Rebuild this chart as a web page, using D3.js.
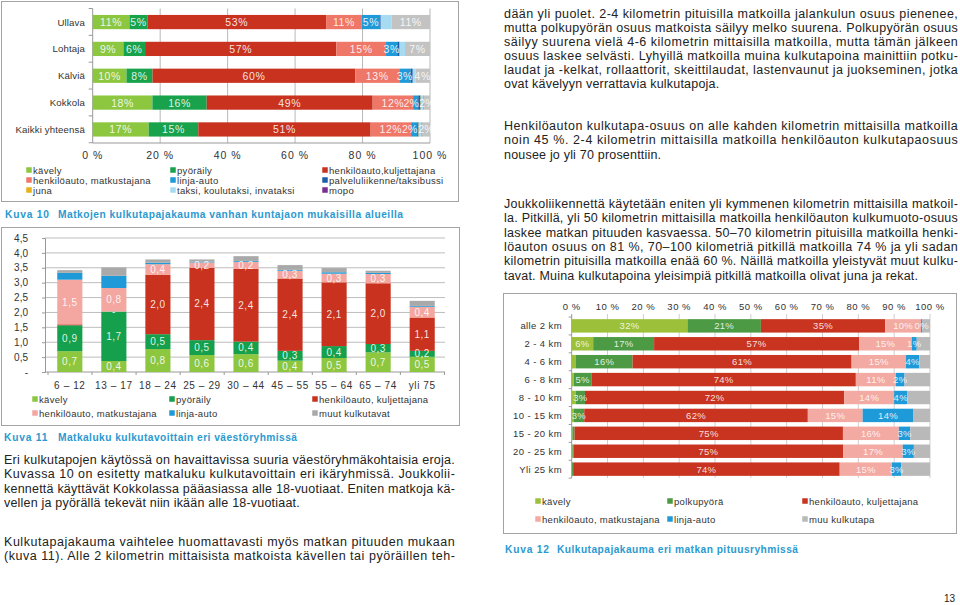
<!DOCTYPE html>
<html>
<head>
<meta charset="utf-8">
<script src="https://cdn.jsdelivr.net/npm/d3@7"></script>
<style>
  body { margin: 0; background: #fff; }
  #page { position: relative; width: 960px; height: 605px; overflow: hidden; }
</style>
</head>
<body>
<div id="page"></div>
<script>
// Kuva 10 data: share of trips by mode, per area (%)
const areas = ["Ullava", "Lohtaja", "Kälviä", "Kokkola", "Kaikki yhteensä"];
const modes10 = ["kävely", "pyöräily", "henkilöauto,kuljettajana", "henkilöauto, matkustajana",
  "linja-auto", "palveluliikenne/taksibussi", "juna", "taksi, koulutaksi, invataksi", "mopo", "muu"];
const ullava   = [10.9, 5.3, 53.0, 10.6, 5.4, 0.2, 0.0, 3.2, 0.0, 11.4];
const lohtaja  = [9.1, 6.4, 56.6, 14.7, 3.3, 0.7, 0.0, 1.6, 0.0, 7.4];
const kalvia   = [10.0, 7.7, 60.0, 13.0, 3.3, 0.7, 0.0, 0.8, 0.0, 4.3];
const kokkola  = [17.7, 16.1, 49.2, 12.0, 1.5, 0.7, 0.1, 0.8, 0.1, 1.8];
const kaikki   = [16.6, 14.7, 51.1, 12.0, 1.8, 0.4, 0.1, 0.8, 0.1, 2.4];
const rows10 = [ullava, lohtaja, kalvia, kokkola, kaikki];
const ticks10 = [0, 20, 40, 60, 80, 100];

// Kuva 11 data: trips per person per day by mode, per age group
const ages = ["6 – 12", "13 – 17", "18 – 24", "25 – 29", "30 – 44", "45 – 55", "55 – 64", "65 – 74", "yli 75"];
const modes11 = ["kävely", "pyöräily", "henkilöauto, kuljettajana", "henkilöauto, matkustajana", "linja-auto", "muut kulkutavat"];
const walk11  = [0.70, 0.37, 0.77, 0.57, 0.60, 0.38, 0.47, 0.66, 0.51];
const bike11  = [0.87, 1.66, 0.50, 0.50, 0.42, 0.33, 0.40, 0.28, 0.20];
const drive11 = [0.03, 0.00, 1.99, 2.43, 2.44, 2.43, 2.14, 2.04, 1.12];
const pass11  = [1.50, 0.79, 0.36, 0.18, 0.24, 0.26, 0.29, 0.31, 0.36];
const bus11   = [0.23, 0.41, 0.05, 0.03, 0.03, 0.03, 0.05, 0.04, 0.03];
const other11 = [0.09, 0.28, 0.11, 0.07, 0.16, 0.16, 0.14, 0.07, 0.17];
const yTicks11 = [0, 0.5, 1, 1.5, 2, 2.5, 3, 3.5, 4, 4.5];

// Kuva 12 data: share of trips by mode, per trip length (%)
const dists = ["alle 2 km", "2 - 4 km", "4 - 6 km", "6 - 8 km", "8 - 10 km", "10 - 15 km", "15 - 20 km", "20 - 25 km", "Yli 25 km"];
const modes12 = ["kävely", "polkupyörä", "henkilöauto, kuljettajana", "henkilöauto, matkustajana", "linja-auto", "muu kulkutapa"];
const walk12  = [32.3, 6.0, 1.2, 0.6, 1.1, 0.5, 0.2, 0.2, 0.1];
const bike12  = [20.5, 17.0, 15.8, 4.9, 2.6, 3.0, 0.6, 0.3, 0.3];
const drive12 = [34.7, 57.2, 61.2, 73.8, 72.3, 62.4, 74.9, 75.3, 74.4];
const pass12  = [10.0, 14.7, 15.2, 11.2, 13.9, 15.3, 15.6, 16.6, 14.6];
const bus12   = [0.4, 1.4, 3.7, 2.4, 3.7, 14.2, 3.2, 3.1, 2.6];
const other12 = [2.1, 3.7, 3.0, 7.1, 6.3, 4.6, 5.5, 4.5, 8.0];
const ticks12 = [0, 10, 20, 30, 40, 50, 60, 70, 80, 90, 100];

const colors10 = ["#8dc63f", "#18a24b", "#c8321e", "#ef7767", "#1f9ad8", "#1d5ea8", "#e8b117", "#a6dbf2", "#7a2f8f", "#c3c3c3"];
const colors11 = ["#8dc63f", "#14a04c", "#c8321e", "#f4a7a0", "#1f9ad8", "#a9a9a9"];
const colors12 = ["#9cc03a", "#4c9a43", "#c8341f", "#f3aaa2", "#1f9ad8", "#b9b9b9"];

const FONT = "'Liberation Sans', Arial, Helvetica, sans-serif";
const svg = d3.select("#page").append("svg")
  .attr("width", 960).attr("height", 605)
  .style("font-family", FONT);

function frame(x0, y0, x1, y1) {
  svg.append("rect")
    .attr("x", x0 + 0.5).attr("y", y0 + 0.5)
    .attr("width", x1 - x0).attr("height", y1 - y0)
    .attr("fill", "none").attr("stroke", "#a3a3a3");
}
frame(1, 1, 458, 201);
frame(1, 227, 459, 425);
frame(503, 293, 956, 533);

function legend(g, items, colors, cols, rowsY) {
  items.forEach((name, i) => {
    const cx = cols[i % cols.length], cy = rowsY[Math.floor(i / cols.length)];
    g.append("rect").attr("x", cx).attr("y", cy - 3).attr("width", 6).attr("height", 6)
      .attr("fill", colors[i]).attr("stroke", "#fff").attr("stroke-width", 0.5);
    g.append("text").attr("x", cx + 7).attr("y", cy + 3.5)
      .attr("font-size", 9.5).attr("letter-spacing", 0.3).attr("fill", "#333").text(name);
  });
}

// ---------- Kuva 10 ----------
{
  const g = svg.append("g");
  const x = d3.scaleLinear().domain([0, 1]).range([92.7, 430]);
  const y = d3.scaleBand().domain(areas).range([8.5, 143]).paddingInner(0.47).paddingOuter(0.24);
  const table = areas.map((a, i) => {
    const o = { name: a };
    modes10.forEach((m, j) => o[m] = rows10[i][j]);
    return o;
  });
  const stacked = d3.stack().keys(modes10).offset(d3.stackOffsetExpand)(table);

  g.selectAll("line.grid").data(ticks10).join("line").attr("class", "grid")
    .attr("x1", d => x(d / 100)).attr("x2", d => x(d / 100))
    .attr("y1", 8.5).attr("y2", 143)
    .attr("stroke", d => d === 0 ? "#999" : "#b8b8b8");

  // left axis ticks between rows
  const step = y.step();
  g.selectAll("line.ytick").data(d3.range(areas.length + 1)).join("line").attr("class", "ytick")
    .attr("x1", x(0) - 4).attr("x2", x(0))
    .attr("y1", i => 8.5 + i * step).attr("y2", i => 8.5 + i * step)
    .attr("stroke", "#999");
  g.append("line").attr("x1", x(0)).attr("x2", x(1)).attr("y1", 143).attr("y2", 143).attr("stroke", "#999");

  g.selectAll("g.layer").data(stacked).join("g").attr("class", "layer")
    .attr("fill", (d, i) => colors10[i])
    .selectAll("rect").data(d => d).join("rect")
    .attr("x", d => x(d[0])).attr("width", d => Math.max(0, x(d[1]) - x(d[0])))
    .attr("y", d => y(d.data.name)).attr("height", y.bandwidth());

  svg.append("clipPath").attr("id", "clip10").append("rect")
    .attr("x", x(0)).attr("y", 0).attr("width", x(1) - x(0) + 1).attr("height", 150);
  const labelled = [0, 1, 2, 3, 4, 9];
  const lab = g.append("g").attr("clip-path", "url(#clip10)");
  stacked.forEach((layer, i) => {
    if (!labelled.includes(i)) return;
    lab.selectAll(null).data(layer).join("text")
      .attr("x", d => (x(d[0]) + x(d[1])) / 2 - (i === 4 && d.data[modes10[i]] < 2 ? 4.5 : 0))
      .attr("y", d => y(d.data.name) + y.bandwidth() / 2 + 4)
      .attr("text-anchor", "middle").attr("font-size", 10.5)
      .attr("letter-spacing", d => d.data[modes10[i]] < 2.5 ? 0 : 0.6)
      .attr("fill", "#fff").attr("fill-opacity", 0.88)
      .text(d => Math.round(d.data[modes10[i]]) + "%");
  });

  g.selectAll("text.cat").data(areas).join("text").attr("class", "cat")
    .attr("x", 85).attr("y", d => y(d) + y.bandwidth() / 2 + 3.5)
    .attr("text-anchor", "end").attr("font-size", 9.6).attr("letter-spacing", 0.15)
    .attr("fill", "#333").text(d => d);

  g.selectAll("text.xt").data(ticks10).join("text").attr("class", "xt")
    .attr("x", d => x(d / 100)).attr("y", 159)
    .attr("text-anchor", "middle").attr("font-size", 10.5).attr("letter-spacing", 1)
    .attr("fill", "#333").text(d => d + " %");

  legend(g, modes10.slice(0, 9), colors10, [26, 170, 322], [170, 180, 190]);
}

// ---------- Kuva 11 ----------
{
  const g = svg.append("g");
  const x = d3.scaleBand().domain(ages).range([48, 444]).paddingInner(0.43).paddingOuter(0.21);
  const y = d3.scaleLinear().domain([0, 4.5]).range([372, 238]);
  const series = [walk11, bike11, drive11, pass11, bus11, other11];
  const table = ages.map((a, i) => {
    const o = { name: a };
    modes11.forEach((m, j) => o[m] = series[j][i]);
    return o;
  });
  const stacked = d3.stack().keys(modes11)(table);
  const fmt = v => v === 0 ? "-" : d3.format(".1f")(v).replace(".", ",");

  g.selectAll("line.grid").data(yTicks11.slice(1)).join("line").attr("class", "grid")
    .attr("x1", 45).attr("x2", 445).attr("y1", d => y(d)).attr("y2", d => y(d))
    .attr("stroke", "#bdbdbd");

  const ax = g.append("g").attr("transform", "translate(45,0)")
    .call(d3.axisLeft(y).tickValues(yTicks11).tickSize(3).tickPadding(14).tickFormat(fmt));
  ax.select(".domain").attr("stroke", "#999");
  ax.selectAll(".tick line").attr("stroke", "#999");
  ax.selectAll("text").attr("font-family", FONT).attr("font-size", 10).attr("fill", "#333");

  g.append("line").attr("x1", 45).attr("x2", 445).attr("y1", 372).attr("y2", 372).attr("stroke", "#999");
  g.selectAll("line.xtick").data(d3.range(ages.length + 1)).join("line").attr("class", "xtick")
    .attr("x1", i => 48 + i * x.step()).attr("x2", i => 48 + i * x.step())
    .attr("y1", 372).attr("y2", 375).attr("stroke", "#999");

  g.selectAll("g.layer").data(stacked).join("g").attr("class", "layer")
    .attr("fill", (d, i) => colors11[i])
    .selectAll("rect").data(d => d).join("rect")
    .attr("x", d => x(d.data.name)).attr("width", x.bandwidth())
    .attr("y", d => y(d[1])).attr("height", d => y(d[0]) - y(d[1]));

  stacked.forEach((layer, i) => {
    if (i > 3) return;
    g.selectAll(null).data(layer.filter(d => d.data[modes11[i]] === 0 || d.data[modes11[i]] >= 0.15)).join("text")
      .attr("x", d => x(d.data.name) + x.bandwidth() / 2)
      .attr("y", d => (y(d[0]) + y(d[1])) / 2 + 3.5)
      .attr("text-anchor", "middle").attr("font-size", 10).attr("letter-spacing", 0.5)
      .attr("fill", "#fff").attr("fill-opacity", 0.88)
      .text(d => fmt(d.data[modes11[i]]));
  });

  g.selectAll("text.cat").data(ages).join("text").attr("class", "cat")
    .attr("x", d => x(d) + x.bandwidth() / 2).attr("y", 389)
    .attr("text-anchor", "middle").attr("font-size", 10).attr("letter-spacing", 0.6)
    .attr("fill", "#333").text(d => d);

  legend(g, modes11, colors11, [32, 169, 312], [399, 413]);
}

// ---------- Kuva 12 ----------
{
  const g = svg.append("g");
  const x = d3.scaleLinear().domain([0, 1]).range([571.7, 930]);
  const y = d3.scaleBand().domain(dists).range([317, 478]).paddingInner(0.25).paddingOuter(0.12);
  const series = [walk12, bike12, drive12, pass12, bus12, other12];
  const table = dists.map((a, i) => {
    const o = { name: a };
    modes12.forEach((m, j) => o[m] = series[j][i]);
    return o;
  });
  const stacked = d3.stack().keys(modes12).offset(d3.stackOffsetExpand)(table);

  g.selectAll("line.grid").data(ticks12.slice(1)).join("line").attr("class", "grid")
    .attr("x1", d => x(d / 100)).attr("x2", d => x(d / 100)).attr("y1", 314).attr("y2", 478)
    .attr("stroke", "#cfcfcf");
  g.append("line").attr("x1", x(0)).attr("x2", x(0)).attr("y1", 314).attr("y2", 478).attr("stroke", "#999");
  g.selectAll("line.ytick").data(d3.range(dists.length + 1)).join("line").attr("class", "ytick")
    .attr("x1", x(0) - 3).attr("x2", x(0))
    .attr("y1", i => 317 + i * y.step()).attr("y2", i => 317 + i * y.step()).attr("stroke", "#999");

  g.selectAll("g.layer").data(stacked).join("g").attr("class", "layer")
    .attr("fill", (d, i) => colors12[i])
    .selectAll("rect").data(d => d).join("rect")
    .attr("x", d => x(d[0])).attr("width", d => Math.max(0, x(d[1]) - x(d[0])))
    .attr("y", d => y(d.data.name)).attr("height", y.bandwidth());

  stacked.forEach((layer, i) => {
    if (i === 5) return;
    const rows = layer.filter(d => i >= 2 || d.data[modes12[i]] >= 2);
    g.selectAll(null).data(rows).join("text")
      .attr("x", d => (x(d[0]) + x(d[1])) / 2)
      .attr("y", d => y(d.data.name) + y.bandwidth() / 2 + 3.5)
      .attr("text-anchor", "middle").attr("font-size", 9.5).attr("letter-spacing", 0.3)
      .attr("fill", "#fff").attr("fill-opacity", 0.85)
      .text(d => Math.round(d.data[modes12[i]]) + "%");
  });

  g.selectAll("text.xt").data(ticks12).join("text").attr("class", "xt")
    .attr("x", d => x(d / 100)).attr("y", 309.5)
    .attr("text-anchor", "middle").attr("font-size", 9.5).attr("letter-spacing", 0.5)
    .attr("fill", "#333").text(d => d + " %");

  g.selectAll("text.cat").data(dists).join("text").attr("class", "cat")
    .attr("x", 562).attr("y", d => y(d) + y.bandwidth() / 2 + 3.5)
    .attr("text-anchor", "end").attr("font-size", 9.5).attr("letter-spacing", 0.4)
    .attr("fill", "#333").text(d => d);

  legend(g, modes12, colors12, [535, 667, 802], [501, 519]);
}

// ---------- captions ----------
function caption(x, y, num, title, tx, tw) {
  const c = svg.append("g").attr("fill", "#2b9ad0").attr("font-weight", "bold").attr("font-size", 10.2);
  c.append("text").attr("x", x).attr("y", y).attr("letter-spacing", 0.8).text(num);
  c.append("text").attr("x", tx).attr("y", y).attr("textLength", tw).attr("lengthAdjust", "spacing").text(title);
}
caption(5, 218, "Kuva 10", "Matkojen kulkutapajakauma vanhan kuntajaon mukaisilla alueilla", 58, 345);
caption(4, 440.5, "Kuva 11", "Matkaluku kulkutavoittain eri väestöryhmissä", 58, 239);
caption(505, 553, "Kuva 12", "Kulkutapajakauma eri matkan pituusryhmissä", 557, 241);

// ---------- body text ----------
function para(x, width, y0, lh, lines, justified) {
  lines.forEach((t, i) => {
    const el = svg.append("text").attr("x", x).attr("y", y0 + i * lh)
      .attr("font-size", 12.5).attr("letter-spacing", 0.2).attr("fill", "#222").text(t);
    if (i < justified) el.attr("textLength", width).attr("lengthAdjust", "spacing");
  });
}
para(4, 451, 464, 14.3, [
  "Eri kulkutapojen käytössä on havaittavissa suuria väestöryhmäkohtaisia eroja.",
  "Kuvassa 10 on esitetty matkaluku kulkutavoittain eri ikäryhmissä. Joukkolii-",
  "kennettä käyttävät Kokkolassa pääasiassa alle 18-vuotiaat. Eniten matkoja kä-",
  "vellen ja pyörällä tekevät niin ikään alle 18-vuotiaat."
], 3);
para(4, 451, 546, 14.3, [
  "Kulkutapajakauma vaihtelee huomattavasti myös matkan pituuden mukaan",
  "(kuva 11). Alle 2 kilometrin mittaisista matkoista kävellen tai pyöräillen teh-"
], 2);
para(504, 454, 17.5, 14, [
  "dään yli puolet. 2-4 kilometrin pituisilla matkoilla jalankulun osuus pienenee,",
  "mutta polkupyörän osuus matkoista säilyy melko suurena. Polkupyörän osuus",
  "säilyy suurena vielä 4-6 kilometrin mittaisilla matkoilla, mutta tämän jälkeen",
  "osuus laskee selvästi. Lyhyillä matkoilla muina kulkutapoina mainittiin potku-",
  "laudat ja -kelkat, rollaattorit, skeittilaudat, lastenvaunut ja juokseminen, jotka",
  "ovat kävelyyn verrattavia kulkutapoja."
], 5);
para(504, 454, 130, 14.4, [
  "Henkilöauton kulkutapa-osuus on alle kahden kilometrin mittaisilla matkoilla",
  "noin 45 %. 2-4 kilometrin mittaisilla matkoilla henkilöauton kulkutapaosuus",
  "nousee jo yli 70 prosenttiin."
], 2);
para(504, 454, 208, 14.3, [
  "Joukkoliikennettä käytetään eniten yli kymmenen kilometrin mittaisilla matkoil-",
  "la. Pitkillä, yli 50 kilometrin mittaisilla matkoilla henkilöauton kulkumuoto-osuus",
  "laskee matkan pituuden kasvaessa. 50–70 kilometrin pituisilla matkoilla henki-",
  "löauton osuus on 81 %, 70–100 kilometriä pitkillä matkoilla 74 % ja yli sadan",
  "kilometrin pituisilla matkoilla enää 60 %. Näillä matkoilla yleistyvät muut kulku-",
  "tavat. Muina kulkutapoina yleisimpiä pitkillä matkoilla olivat juna ja rekat."
], 5);

svg.append("text").attr("x", 955).attr("y", 602).attr("text-anchor", "end")
  .attr("font-size", 10).attr("fill", "#222").text("13");
</script>
</body>
</html>
